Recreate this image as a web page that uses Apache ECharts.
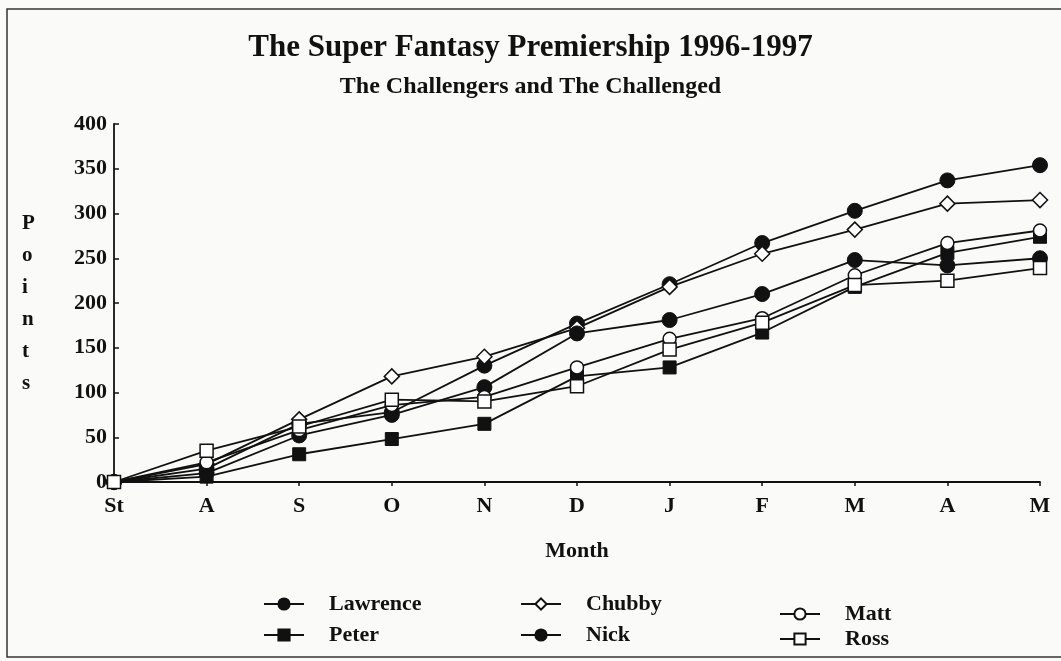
<!DOCTYPE html>
<html>
<head>
<meta charset="utf-8">
<title>The Super Fantasy Premiership 1996-1997</title>
<script src="https://cdn.jsdelivr.net/npm/echarts@6/dist/echarts.min.js"></script>
<style>
  html, body { margin: 0; padding: 0; background: #fafaf8; }
  #main { width: 1061px; height: 661px; }
</style>
</head>
<body>
<div id="main"></div>
<script>
// months of the season, St = start
const months = ['St', 'A', 'S', 'O', 'N', 'D', 'J', 'F', 'M', 'A', 'M']

// cumulative points
const lawrence = [0, 15, 65, 78, 130, 177, 221, 267, 303, 337, 354]
const peter = [0, 6, 31, 48, 65, 118, 128, 167, 218, 256, 274]
const chubby = [0, 20, 70, 118, 140, 172, 218, 255, 282, 311, 315]
const nick = [0, 10, 52, 75, 106, 166, 181, 210, 248, 242, 250]
const matt = [0, 22, 58, 86, 95, 128, 160, 183, 231, 267, 281]
const ross = [0, 35, 62, 92, 90, 107, 148, 178, 220, 225, 239]

const yTicks = [0, 50, 100, 150, 200, 250, 300, 350, 400]

const serif = '"Liberation Serif", "DejaVu Serif", serif'
const ink = '#111'

function mkSeries(name, data, symbol, size, filled) {
  return {
    name,
    type: 'line',
    data,
    symbol,
    symbolSize: size,
    showAllSymbol: true,
    lineStyle: { color: ink, width: 1.8 },
    itemStyle: filled
      ? { color: ink, borderColor: ink, borderWidth: 1 }
      : { color: '#fff', borderColor: ink, borderWidth: 1.5 },
    emphasis: { disabled: true },
    animation: false
  }
}

const chart = echarts.init(document.getElementById('main'))

const legendText = { fontFamily: serif, fontSize: 22, fontWeight: 'bold', color: ink, padding: [0, 0, 0, 20] }

chart.setOption({
  backgroundColor: '#fafaf8',
  title: {
    text: 'The Super Fantasy Premiership 1996-1997',
    subtext: 'The Challengers and The Challenged',
    left: 'center',
    top: 27,
    itemGap: 12,
    textStyle: { fontFamily: serif, fontSize: 31, fontWeight: 'bold', color: ink },
    subtextStyle: { fontFamily: serif, fontSize: 24, fontWeight: 'bold', color: ink }
  },
  grid: { left: 114, right: 21, top: 124, bottom: 179, containLabel: false },
  legend: [
    {
      data: ['Lawrence', 'Peter'],
      orient: 'vertical', left: 258, top: 588, itemGap: 9,
      itemWidth: 40, itemHeight: 14, textStyle: legendText, selectedMode: false
    },
    {
      data: ['Chubby', 'Nick'],
      orient: 'vertical', left: 515, top: 588, itemGap: 9,
      itemWidth: 40, itemHeight: 14, textStyle: legendText, selectedMode: false
    },
    {
      data: ['Matt', 'Ross'],
      orient: 'vertical', left: 774, top: 598, itemGap: 3,
      itemWidth: 40, itemHeight: 14, textStyle: legendText, selectedMode: false
    }
  ],
  xAxis: {
    type: 'category',
    data: months,
    boundaryGap: false,
    name: 'Month',
    nameLocation: 'middle',
    nameGap: 58,
    nameTextStyle: { fontFamily: serif, fontSize: 22, fontWeight: 'bold', color: ink },
    axisLine: { lineStyle: { color: ink, width: 1.8 } },
    axisTick: { show: true, alignWithLabel: true, length: 4, lineStyle: { color: ink, width: 1.5 } },
    axisLabel: { fontFamily: serif, fontSize: 22, fontWeight: 'bold', color: ink, margin: 13 },
    splitLine: { show: false }
  },
  yAxis: {
    type: 'value',
    min: yTicks[0],
    max: yTicks[yTicks.length - 1],
    interval: 50,
    axisLine: { show: true, lineStyle: { color: ink, width: 1.8 } },
    axisTick: { show: true, inside: true, length: 5, lineStyle: { color: ink, width: 1.5 } },
    axisLabel: { fontFamily: serif, fontSize: 22, fontWeight: 'bold', color: ink, margin: 7 },
    splitLine: { show: false }
  },
  graphic: [
    {
      type: 'rect',
      shape: { x: 7, y: 9, width: 1070, height: 648 },
      style: { fill: 'none', stroke: '#333', lineWidth: 1.5 },
      silent: true
    },
    {
      type: 'text',
      left: 22,
      top: 208,
      style: {
        text: 'P\no\ni\nn\nt\ns',
        fontFamily: serif,
        fontSize: 21,
        fontWeight: 'bold',
        lineHeight: 32,
        align: 'center',
        fill: ink
      }
    }
  ],
  series: [
    mkSeries('Lawrence', lawrence, 'circle', 15, true),
    mkSeries('Peter', peter, 'rect', 13, true),
    mkSeries('Chubby', chubby, 'diamond', 15, false),
    mkSeries('Nick', nick, 'circle', 15, true),
    mkSeries('Matt', matt, 'circle', 13, false),
    mkSeries('Ross', ross, 'rect', 13, false)
  ]
})
</script>
</body>
</html>
